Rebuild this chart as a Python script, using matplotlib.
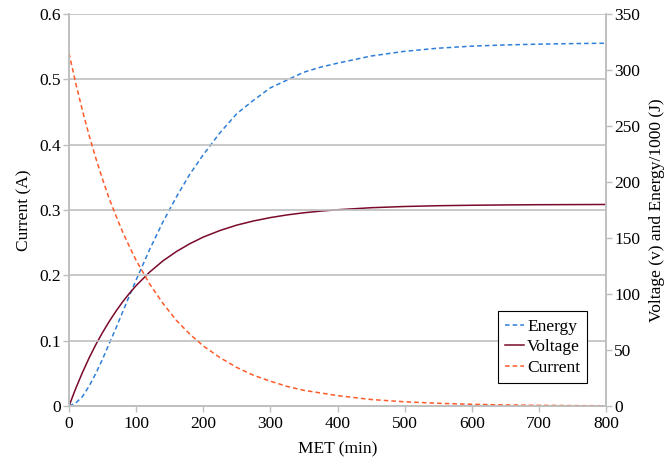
import matplotlib.pyplot as plt
import numpy as np
from matplotlib.ticker import FuncFormatter

plt.rcParams.update(
    {
        "font.family": ["Liberation Serif", "DejaVu Serif"],
        "font.size": 12,
        "lines.linewidth": 1.1,
    }
)

met = [0, 10, 20, 30, 40, 50, 60, 70, 80, 90, 100, 120, 140, 160, 180, 200,
       225, 250, 275, 300, 325, 350, 375, 400, 450, 500, 550, 600, 650,
       700, 750, 800]
current = [0.540, 0.494, 0.452, 0.414, 0.379, 0.347, 0.317, 0.291, 0.266,
           0.244, 0.223, 0.187, 0.157, 0.131, 0.110, 0.092, 0.074, 0.059,
           0.047, 0.038, 0.030, 0.024, 0.020, 0.016, 0.010, 0.0065, 0.0042,
           0.0027, 0.0017, 0.0011, 0.0007, 0.0004]
voltage = [0, 15.7, 29.9, 43.0, 54.9, 65.7, 75.6, 84.7, 93.1, 100.6, 107.5,
           119.5, 129.6, 137.9, 144.9, 150.8, 156.7, 161.5, 165.2, 168.2,
           170.6, 172.5, 174.0, 175.2, 177.0, 178.1, 178.8, 179.2, 179.5,
           179.7, 179.8, 179.9]
energy = [0, 2.7, 8.4, 17.9, 29.1, 42.0, 55.8, 69.7, 84.1, 98.5, 112.5,
          139.6, 164.4, 186.7, 206.9, 224.3, 244.0, 261.0, 273.0, 284.0,
          291.0, 298.0, 302.5, 306.0, 312.4, 316.6, 319.4, 321.2, 322.3,
          323.0, 323.5, 323.8]

grey = "#bfbfbf"
c_energy = "#2f7fd8"
c_voltage = "#7a0a2a"
c_current = "#ff5a2a"

fig = plt.figure(figsize=(6.7, 4.63), dpi=100)
ax = fig.add_axes([0.103, 0.123, 0.8015, 0.847])
ax2 = ax.twinx()

l_cur, = ax.plot(met, current, color=c_current, ls=(0, (3, 2)), label="Current")
l_en, = ax2.plot(met, energy, color=c_energy, ls=(0, (3, 2)), label="Energy")
l_volt, = ax2.plot(met, voltage, color=c_voltage, label="Voltage")

ax.set_xlim(0, 800)
ax.set_ylim(0, 0.6)
ax2.set_ylim(0, 350)
ax.set_xticks(np.arange(0, 801, 100))
ax.set_yticks(np.arange(0, 0.61, 0.1))
ax2.set_yticks(np.arange(0, 351, 50))
ax.yaxis.set_major_formatter(FuncFormatter(lambda v, p: "0" if v == 0 else f"{v:.1f}"))

ax.grid(axis="y", color=grey, lw=1.2)
ax.set_axisbelow(True)
for a in (ax, ax2):
    a.spines["top"].set_visible(False)
    for s in ("left", "right", "bottom"):
        a.spines[s].set_color(grey)
        a.spines[s].set_linewidth(1.2)
    a.tick_params(color=grey, length=4, width=1, labelsize=12.5, pad=2)
ax.tick_params(axis="x", pad=3)
ax.set_zorder(ax2.get_zorder() + 1)
ax.patch.set_visible(False)

ax.set_xlabel("MET (min)", labelpad=7, fontsize=12.5)
ax.set_ylabel("Current (A)", labelpad=5, fontsize=12.5)
ax2.set_ylabel("Voltage (v) and Energy/1000 (J)", labelpad=6, fontsize=12.5)

leg = ax.legend(
    handles=[l_en, l_volt, l_cur],
    loc="lower right",
    bbox_to_anchor=(0.965, 0.06),
    borderaxespad=0,
    fancybox=False,
    framealpha=1,
    edgecolor="black",
    fontsize=12.5,
    handlelength=1.1,
    handletextpad=0.2,
    borderpad=0.4,
    labelspacing=0.25,
)
leg.get_frame().set_linewidth(0.8)

plt.savefig("out.png", dpi=100)
